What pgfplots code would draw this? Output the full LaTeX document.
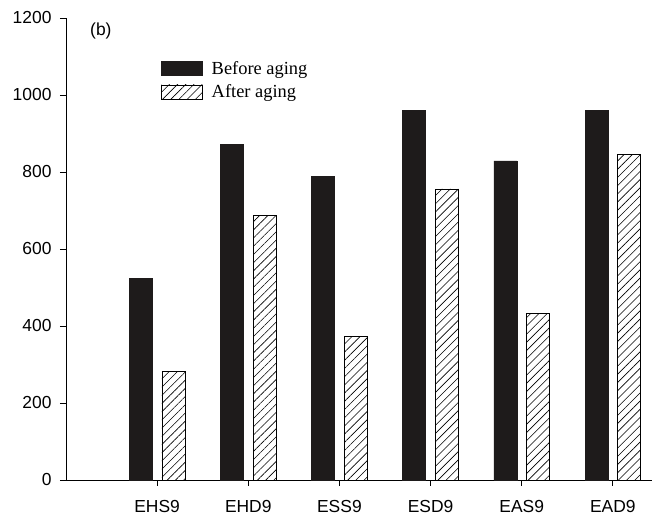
\documentclass[border=0pt]{standalone}
\usepackage{fontspec}
\setmainfont{Liberation Serif}
\setsansfont{Liberation Sans}
\usepackage{pgfplots}
\pgfplotsset{compat=1.18}
\usetikzlibrary{patterns.meta}

\definecolor{barblack}{RGB}{30,27,27}

\begin{document}
\begin{tikzpicture}
\begin{axis}[
  scale only axis,
  width=586bp, height=462bp,
  xmin=0, xmax=6.43,
  ymin=0, ymax=1200,
  axis x line*=bottom,
  axis y line*=left,
  axis line style={line width=0.8bp},
  tick style={line width=0.8bp, black},
  tick align=outside,
  major tick length=6bp,
  xtick={1,2,3,4,5,6},
  xticklabels={EHS9,EHD9,ESS9,ESD9,EAS9,EAD9},
  ytick={0,200,400,600,800,1000,1200},
  tick label style={font=\sffamily\fontsize{17.5}{17.5}\selectfont},
  /pgf/number format/assume math mode=true,
  /pgf/number format/1000 sep={},
  xticklabel style={yshift=-11bp},
  yticklabel style={xshift=-5bp},
  ybar=9.6bp,
  bar width=23bp,
  legend style={draw=none, fill=none,
    at={(axis description cs:0.162,0.911)}, anchor=north west,
    inner sep=0pt, row sep=5bp, /tikz/column sep=7bp,
    font=\rmfamily\fontsize{18.5}{18.5}\selectfont,
    cells={anchor=west}},
  legend image code/.code={\draw[#1] (0bp,-7bp) rectangle (41bp,7bp);},
  clip=false,
]
\addplot[draw=barblack, fill=barblack, line width=0.5bp]
  coordinates {(1,523) (2,871) (3,788) (4,960) (5,829) (6,960)};
\addplot[draw=black, line width=0.6bp, fill=white,
  postaction={pattern={Lines[angle=45,distance=5.8bp,line width=0.6bp]}}]
  coordinates {(1,282) (2,688) (3,373) (4,756) (5,432) (6,845)};
\legend{Before aging, After aging}
\node[anchor=west, inner sep=0pt, font=\sffamily\fontsize{17.5}{17.5}\selectfont]
  at (axis description cs:0.041,0.972) {(b)};
\end{axis}
\path[use as bounding box] (-66bp,-35bp) rectangle (587bp,480bp);
\end{tikzpicture}
\end{document}
